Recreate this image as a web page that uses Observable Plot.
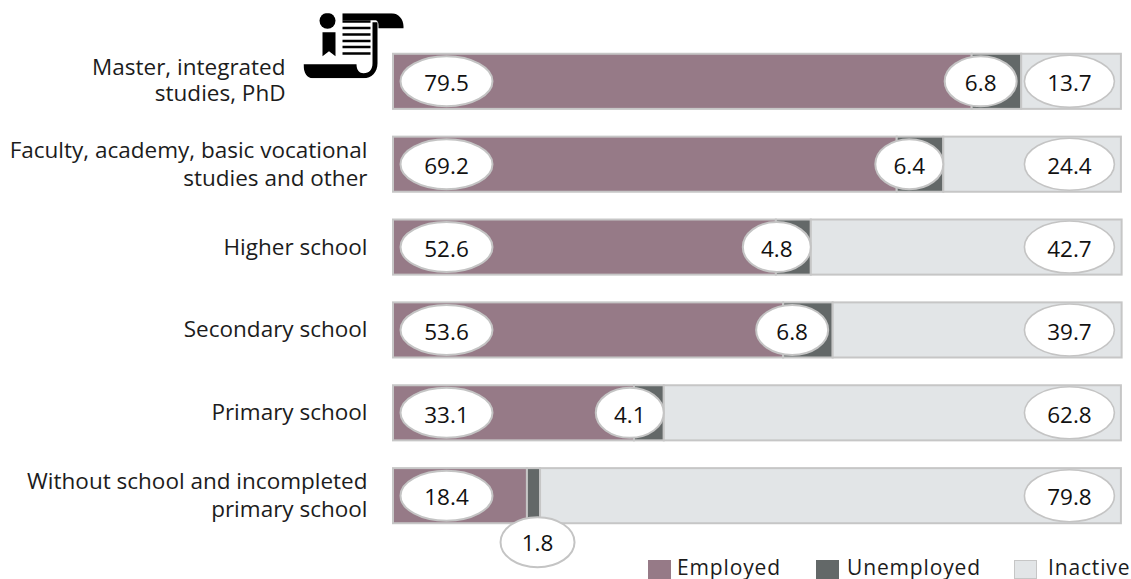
<!DOCTYPE html>
<html>
<head>
<meta charset="utf-8">
<script src="https://cdn.jsdelivr.net/npm/d3@7"></script>
<script src="https://cdn.jsdelivr.net/npm/@observablehq/plot@0.6"></script>
<style>
html,body{margin:0;padding:0;background:#fff;width:1131px;height:579px;overflow:hidden}
#wrap{position:relative;width:1131px;height:579px}
#legend{position:absolute;left:0;top:0;font:21px "Open Sans",sans-serif;color:#1c1c1c}
#legend span{position:absolute;top:555px;white-space:nowrap;letter-spacing:.85px;line-height:24px}
#legend i{position:absolute;top:560px;width:23px;height:19px;box-sizing:border-box}
</style>
</head>
<body>
<div id="wrap"></div>
<script>
const categories = [
  "Master, integrated\nstudies, PhD",
  "Faculty, academy, basic vocational\nstudies and other",
  "Higher school",
  "Secondary school",
  "Primary school",
  "Without school and incompleted\nprimary school"
];
const employed = [79.5, 69.2, 52.6, 53.6, 33.1, 18.4];
const unemployed = [6.8, 6.4, 4.8, 6.8, 4.1, 1.8];
const inactive = [13.7, 24.4, 42.7, 39.7, 62.8, 79.8];
const seriesNames = ["Employed", "Unemployed", "Inactive"];
const seriesColors = ["#967a87", "#636868", "#e2e5e7"];

const rows = categories.map((c, i) => ({c, e: employed[i], u: unemployed[i], n: inactive[i], end: employed[i] + unemployed[i]}));
const segments = rows.flatMap(r => [
  {c: r.c, s: seriesNames[0], v: r.e},
  {c: r.c, s: seriesNames[1], v: r.u},
  {c: r.c, s: seriesNames[2], v: r.n}
]);

const ellipse = (rx, ry) => ({
  draw(ctx) {
    const k = 0.5523;
    ctx.moveTo(-rx, 0);
    ctx.bezierCurveTo(-rx, -k * ry, -k * rx, -ry, 0, -ry);
    ctx.bezierCurveTo(k * rx, -ry, rx, -k * ry, rx, 0);
    ctx.bezierCurveTo(rx, k * ry, k * rx, ry, 0, ry);
    ctx.bezierCurveTo(-k * rx, ry, -rx, k * ry, -rx, 0);
    ctx.closePath();
  }
});

const icon = "data:image/svg+xml," + encodeURIComponent(`<svg xmlns="http://www.w3.org/2000/svg" viewBox="0 0 101 65">
<circle cx="24" cy="7.5" r="8"/><path d="M19 19h13v24l-6.500-5-6.500 5z"/>
<path d="M39 0H88c7 0 12 6 12 13v2H75V12c0-3-1-5-4-5H39z"/>
<path d="M39 7h28v2.500H39zM39 13.500h28v2.500H39zM39 20h28v2.500H39zM39 26.500h28v2.500H39zM39 32.500h28v2.500H39zM39 39h28v2.500H39z"/>
<path d="M0 51H53c0 6 3 9 7 9 6 0 9-4 9-10V9h5V50c0 9-6 15-14 15H9C4 65 0 60 0 51z"/>
</svg>`);

const labelFont = {fontFamily: "Open Sans, sans-serif", fontSize: 22.5, fill: "#1c1c1c", textAnchor: "end", lineHeight: 1.25, dy: -2};
const valueFont = {fontFamily: "Open Sans, sans-serif", fontSize: 22.5, fill: "#111", dy: 2};
const pill = {fill: "#fff", stroke: "#c4c4c4", strokeWidth: 2, r: 1};
const wideRows = rows.filter(r => r.u >= 6.5);
const sideRows = rows.filter(r => r.u >= 4 && r.u < 6.5);
const belowRows = rows.filter(r => r.u < 4);

const chart = Plot.plot({
  width: 1131, height: 579,
  marginLeft: 393, marginRight: 9, marginTop: 26, marginBottom: 28,
  x: {domain: [0, 100.15], axis: null},
  y: {domain: categories, axis: null, padding: 0.335, round: false},
  color: {domain: seriesNames, range: seriesColors},
  style: {background: "transparent", overflow: "visible"},
  marks: [
    Plot.barX(segments, {x: "v", y: "c", fill: "s", order: seriesNames, stroke: "#c6c6c6", strokeWidth: 2}),
    Plot.dot(rows, {x: 0, y: "c", dx: 53, dy: -0.5, symbol: ellipse(46, 25), ...pill}),
    Plot.text(rows, {x: 0, y: "c", dx: 53, text: d => d.e.toFixed(1), ...valueFont}),
    Plot.dot(wideRows, {x: "end", y: "c", dx: -41, dy: -0.5, symbol: ellipse(36, 25), ...pill}),
    Plot.text(wideRows, {x: "end", y: "c", dx: -41, text: d => d.u.toFixed(1), ...valueFont}),
    Plot.dot(sideRows, {x: "end", y: "c", dx: -34.5, dy: -0.5, symbol: ellipse(34, 25), ...pill}),
    Plot.text(sideRows, {x: "end", y: "c", dx: -34.5, text: d => d.u.toFixed(1), ...valueFont}),
    Plot.dot(belowRows, {x: "end", y: "c", dx: -3, dy: 46, symbol: ellipse(37, 25), ...pill}),
    Plot.text(belowRows, {x: "end", y: "c", text: d => d.u.toFixed(1), ...valueFont, dx: -3, dy: 48}),
    Plot.dot(rows, {x: 100, y: "c", dx: -52, dy: -0.5, symbol: ellipse(45, 26), ...pill, strokeWidth: 1.6}),
    Plot.text(rows, {x: 100, y: "c", dx: -52, text: d => d.n.toFixed(1), ...valueFont}),
    Plot.text(rows.slice(1), {x: 0, y: "c", dx: -26, text: "c", ...labelFont}),
    Plot.text(rows.slice(0, 1), {x: 0, y: "c", dx: -108, text: "c", ...labelFont, lineHeight: 1.16}),
    Plot.image(rows.slice(0, 1), {x: 0, y: "c", dx: -39.5, dy: -36, width: 101, height: 65, src: () => icon, preserveAspectRatio: "none"})
  ]
});
const wrap = document.getElementById("wrap");
wrap.appendChild(chart);

const legend = document.createElement("div");
legend.id = "legend";
const swatchX = [648, 816, 1014], labelX = [677, 847, 1048];
seriesNames.forEach((s, i) => {
  const sw = document.createElement("i");
  sw.style.left = swatchX[i] + "px";
  sw.style.background = seriesColors[i];
  if (i === 2) sw.style.border = "1.5px solid #c6c6c6";
  const t = document.createElement("span");
  t.style.left = labelX[i] + "px";
  t.textContent = s;
  legend.append(sw, t);
});
wrap.appendChild(legend);
</script>
</body>
</html>
